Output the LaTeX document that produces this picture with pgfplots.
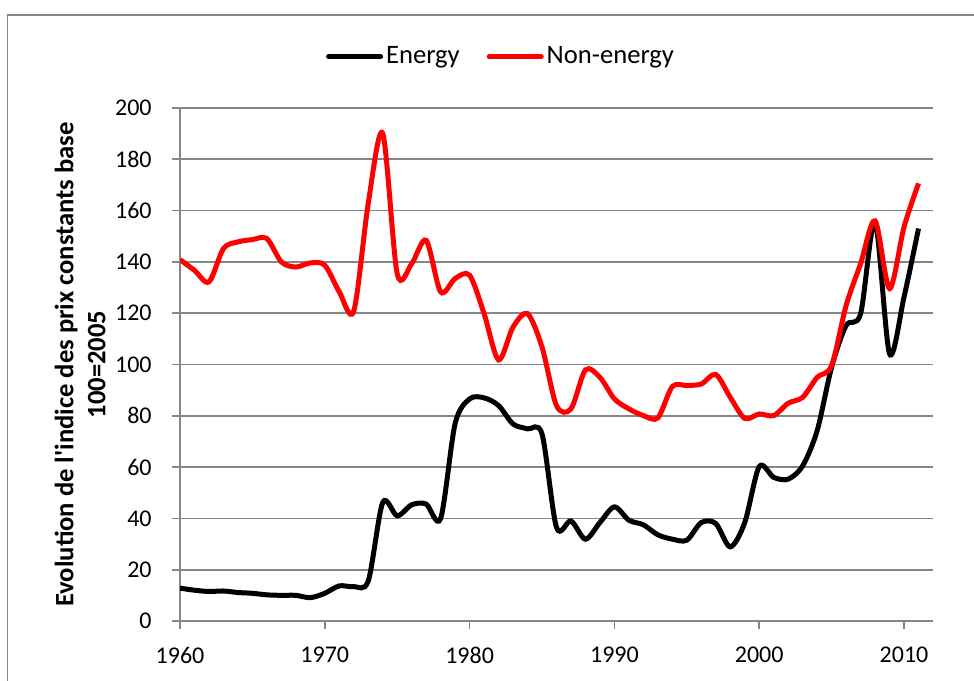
\documentclass[border=0pt]{standalone}
\usepackage{pgfplots}
\pgfplotsset{compat=1.18}
\usepackage{fontspec}
\setmainfont{Carlito}
\definecolor{gridgray}{RGB}{134,134,134}
\definecolor{bordergray}{RGB}{134,134,134}
\begin{document}
\fontsize{12}{14}\selectfont
\begin{tikzpicture}[x=1pt,y=1pt]
\useasboundingbox (0,0) rectangle (487,340);
\draw[bordergray, line width=0.7pt] (3.65,-5) rectangle (495,332.5);
\begin{axis}[
  at={(90pt,29.5pt)}, anchor=south west,
  scale only axis, width=376.5pt, height=256.5pt,
  xmin=1960, xmax=2012, ymin=0, ymax=200,
  xtick={1960,1970,1980,1990,2000,2010},
  ytick={0,20,40,60,80,100,120,140,160,180,200},
  axis x line*=bottom, axis y line*=left,
  axis line style={gridgray, line width=0.8pt},
  ymajorgrids, grid style={gridgray, line width=0.8pt},
  tick align=outside, major tick length=4pt,
  tick style={gridgray, line width=0.8pt},
  /pgf/number format/assume math mode=true,
  xticklabel style={/pgf/number format/1000 sep={}, font=\fontsize{12}{14}\selectfont, yshift=-5pt},
  yticklabel style={font=\fontsize{12}{14}\selectfont, xshift=-6pt},
  ylabel={Evolution de l\textquotesingle indice des prix constants base\\100=2005},
  ylabel style={at={(axis description cs:-0.1328,0.5)}, anchor=center, align=center, font=\fontsize{13.3}{16}\selectfont\bfseries},
  legend columns=2,
  legend style={at={(axis description cs:0.427,1.1)}, anchor=center, draw=none, font=\fontsize{13.3}{15}\selectfont, /tikz/every even column/.append style={column sep=12pt}, nodes={inner xsep=1.5pt}},
  legend image code/.code={\draw[#1, line cap=round] (0pt,0pt) -- (26pt,0pt);},
]
\addplot[black, line width=2.5pt, smooth] coordinates {
(1960,12.8) (1961,12.0) (1962,11.5) (1963,11.7) (1964,11.1) (1965,10.8) (1966,10.2) (1967,10.0) (1968,10.0) (1969,9.1)
(1970,10.8) (1971,13.7) (1972,13.4) (1973,15.6) (1974,46.2) (1975,41.0) (1976,45.3) (1977,45.6) (1978,40.0) (1979,77.0)
(1980,86.6) (1981,87.0) (1982,84.0) (1983,76.8) (1984,74.9) (1985,72.9) (1986,36.5) (1987,39.0) (1988,31.9) (1989,38.4)
(1990,44.5) (1991,39.3) (1992,37.5) (1993,33.6) (1994,31.9) (1995,31.5) (1996,38.4) (1997,38.0) (1998,28.9) (1999,38.4)
(2000,60.2) (2001,56.0) (2002,55.3) (2003,60.5) (2004,74.2) (2005,99.0) (2006,115.2) (2007,119.8) (2008,155.6) (2009,104.2)
(2010,126.3) (2011,153.0)
};
\addlegendentry{Energy}
\addplot[red, line width=2.5pt, smooth] coordinates {
(1960,140.9) (1961,136.7) (1962,132.2) (1963,145.2) (1964,147.8) (1965,148.7) (1966,149.1) (1967,140.0) (1968,138.0) (1969,139.6)
(1970,138.7) (1971,128.3) (1972,120.8) (1973,162.8) (1974,190.1) (1975,135.4) (1976,139.3) (1977,148.4) (1978,128.3) (1979,133.5)
(1980,134.8) (1981,119.8) (1982,101.8) (1983,114.6) (1984,119.8) (1985,106.8) (1986,84.0) (1987,82.7) (1988,97.9) (1989,95.0)
(1990,86.6) (1991,82.7) (1992,80.1) (1993,79.2) (1994,91.4) (1995,91.8) (1996,92.4) (1997,96.1) (1998,87.2) (1999,79.0)
(2000,80.7) (2001,80.1) (2002,84.9) (2003,87.2) (2004,95.0) (2005,99.6) (2006,123.0) (2007,139.3) (2008,156.0) (2009,129.6)
(2010,153.6) (2011,170.6)
};
\addlegendentry{Non-energy}
\end{axis}
\end{tikzpicture}
\end{document}
